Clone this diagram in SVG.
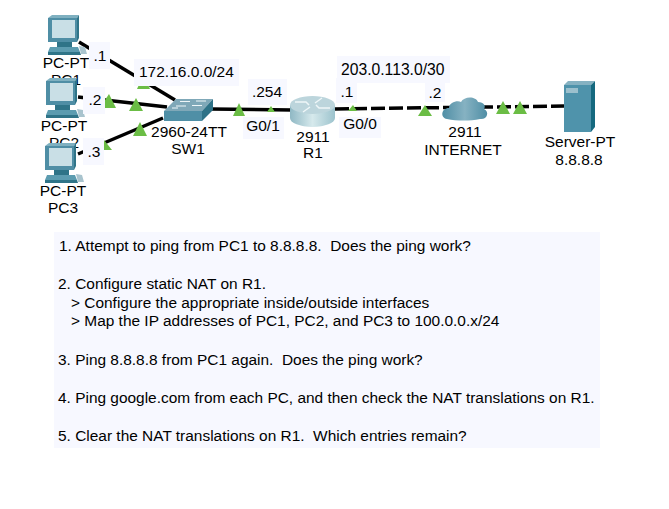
<svg xmlns="http://www.w3.org/2000/svg" width="669" height="509" viewBox="0 0 669 509">
<style>
text{font-family:"Liberation Sans",Arial,sans-serif;font-size:15.5px;fill:#000;white-space:pre}
.m{text-anchor:middle}
.t{font-size:15.45px}
.bg{fill:#f7f8ff}
.tri{fill:#6bbd45}
.ln{stroke:#000;stroke-width:3.5;fill:none}
.pcb{fill:#4f8ea5}
.pcd{fill:#2f7488}
.wh{stroke:#eef6f8;stroke-width:1.5;fill:none}
</style>
<defs>
<g id="pc">
<path d="M4 2 L8 -1 H35 L33 2Z" fill="#7fb0c0"/>
<path class="pcd" d="M33 2 L35 -1 V22 L33 26Z"/>
<rect class="pcb" x="4" y="2" width="29" height="24"/>
<rect x="8" y="4" width="23" height="18" fill="#c9dfe6"/>
<path class="pcd" d="M13 26 H28 V31 H13Z"/>
<path d="M6 31 H34 L36 36 H4Z" fill="#5c9cb0"/>
<path class="pcd" d="M4 36 H36 L37 39 H4Z"/>
<path d="M35 30 L41 31 L43 38 H37Z" fill="#a9c4ce"/>
</g>
<linearGradient id="rt" x1="0" x2="1" y1="0" y2="0"><stop offset="0" stop-color="#8fb8c4"/><stop offset=".5" stop-color="#d6e9ec"/><stop offset="1" stop-color="#9cc3cd"/></linearGradient>
<linearGradient id="cl" x1="0" x2="1" y1="0" y2="0"><stop offset="0" stop-color="#4f8ea5"/><stop offset=".5" stop-color="#86b2c2"/><stop offset="1" stop-color="#4f8ea5"/></linearGradient>
</defs>
<g id="connectors">
<path class="ln" d="M79 42 L175 100"/>
<path class="ln" d="M78 97 L167 107"/>
<path class="ln" d="M78 154 L163 118"/>
<path class="ln" d="M210 109 L292 110"/>
<path class="ln" stroke-dasharray="14 4" d="M335 109 L564 106"/>
</g>
<g id="PC1"><use href="#pc" x="44" y="16"/><text class="m" x="66" y="68">PC-PT</text><text class="m" x="66" y="85">PC1</text></g>
<g id="PC2"><use href="#pc" x="42" y="79"/><text class="m" x="64" y="131">PC-PT</text><text class="m" x="64" y="148">PC2</text></g>
<g id="PC3"><use href="#pc" x="41" y="144"/><text class="m" x="63" y="196">PC-PT</text><text class="m" x="63" y="213">PC3</text></g>
<g id="SW1">
<path d="M164 111 L176 99 H213 L202 111Z" fill="#7fa8b8"/>
<path d="M164 111 H202 V121 H164Z" fill="#4f8fa6"/>
<path d="M202 111 L213 99 V110 L202 121Z" fill="#2e7287"/>
<path d="M180 101.500 H190 M196 101 H206 M176 106 H186 M192 105.500 H202 M172 108 H178" stroke="#eef6f8" stroke-width="1.200"/>
<text class="m" x="189" y="137">2960-24TT</text><text class="m" x="188" y="154">SW1</text>
</g>
<g id="R1">
<path d="M290 105 V118 A22.500 9 0 0 0 335 118 V105Z" fill="url(#rt)"/>
<ellipse cx="312.500" cy="105" rx="22.500" ry="9" fill="#bcd5dc"/>
<path class="wh" d="M295 102 H306 L309 105 M330 108 H319 L316 105 M322 98 L315 103 M303 112 L310 107"/>
<text class="m" x="313" y="142">2911</text><text class="m" x="313" y="158">R1</text>
</g>
<g id="INTERNET">
<path fill="url(#cl)" d="M447 119 C440 118 441 108 449 108 C449 102 458 100 461 102 C464 96 476 96 478 102 C484 102 486 106 484 109 C490 112 487 120 480 119 C470 121 457 121 447 119Z"/>
<text class="m" x="465" y="137">2911</text><text class="m" x="463" y="155">INTERNET</text>
</g>
<g id="Server">
<path d="M564 85 L568 81 H595 L591 85Z" fill="#86b2c2"/>
<rect x="564" y="85" width="27" height="47" fill="#4f93ab"/>
<path d="M591 85 L595 81 V127 L591 132Z" fill="#15697f"/>
<rect x="566" y="88" width="12" height="5" fill="#9cc0cd"/>
<text class="m" x="580" y="147">Server-PT</text><text class="m" x="579" y="165">8.8.8.8</text>
</g>
<g id="markers">
<path class="tri" d="M143.500 75 L150 89 H137Z"/>
<path class="tri" d="M109 94 L116 108 H105 V100Z"/>
<path class="tri" d="M136 98 L143 111 H129Z"/>
<path class="tri" d="M104 140 L112 150 H104Z"/>
<path class="tri" d="M140 122 L147 136 H133Z"/>
<path class="tri" d="M239 103 L245 116 H233Z"/>
<path class="tri" d="M271 106 L275 112 H267Z"/>
<path class="tri" d="M353 105 L357 111 H348Z"/>
<path class="tri" d="M425 105 L432 116 H418Z"/>
<path class="tri" d="M503 101 L510 114 H496Z"/>
<path class="tri" d="M520 101 L527 114 H513Z"/>
</g>
<g id="labels">
<rect class="bg" x="89" y="42" width="21" height="27"/><text class="m" x="100" y="61">.1</text>
<rect class="bg" x="134" y="59" width="105" height="27"/><text x="139" y="77">172.16.0.0/24</text>
<rect class="bg" x="83" y="87" width="22" height="27"/><text class="m" x="95" y="105">.2</text>
<rect class="bg" x="83" y="138" width="21" height="27"/><text class="m" x="94" y="157">.3</text>
<rect class="bg" x="248" y="79" width="39" height="26"/><text class="m" x="267" y="97">.254</text>
<rect class="bg" x="243" y="117" width="41" height="22"/><text class="m" x="263" y="131">G0/1</text>
<rect class="bg" x="337" y="56" width="113" height="27"/><text x="341" y="75" style="font-size:15.700px">203.0.113.0/30</text>
<rect class="bg" x="336" y="78" width="21" height="25"/><text class="m" x="347" y="97">.1</text>
<rect class="bg" x="339" y="117" width="42" height="21"/><text class="m" x="360" y="129">G0/0</text>
<rect class="bg" x="425" y="83" width="20" height="19"/><text class="m" x="435" y="98">.2</text>
</g>
<g id="notes">
<rect class="bg" x="54" y="232" width="546" height="216"/>
<text class="t" x="59" y="251">1. Attempt to ping from PC1 to 8.8.8.8.  Does the ping work?</text>
<text class="t" x="58" y="289">2. Configure static NAT on R1.</text>
<text class="t" x="71" y="308">&gt; Configure the appropriate inside/outside interfaces</text>
<text class="t" x="71" y="326">&gt; Map the IP addresses of PC1, PC2, and PC3 to 100.0.0.x/24</text>
<text class="t" x="58" y="365">3. Ping 8.8.8.8 from PC1 again.  Does the ping work?</text>
<text class="t" x="58" y="403">4. Ping google.com from each PC, and then check the NAT translations on R1.</text>
<text class="t" x="58" y="441">5. Clear the NAT translations on R1.  Which entries remain?</text>
</g>
</svg>
